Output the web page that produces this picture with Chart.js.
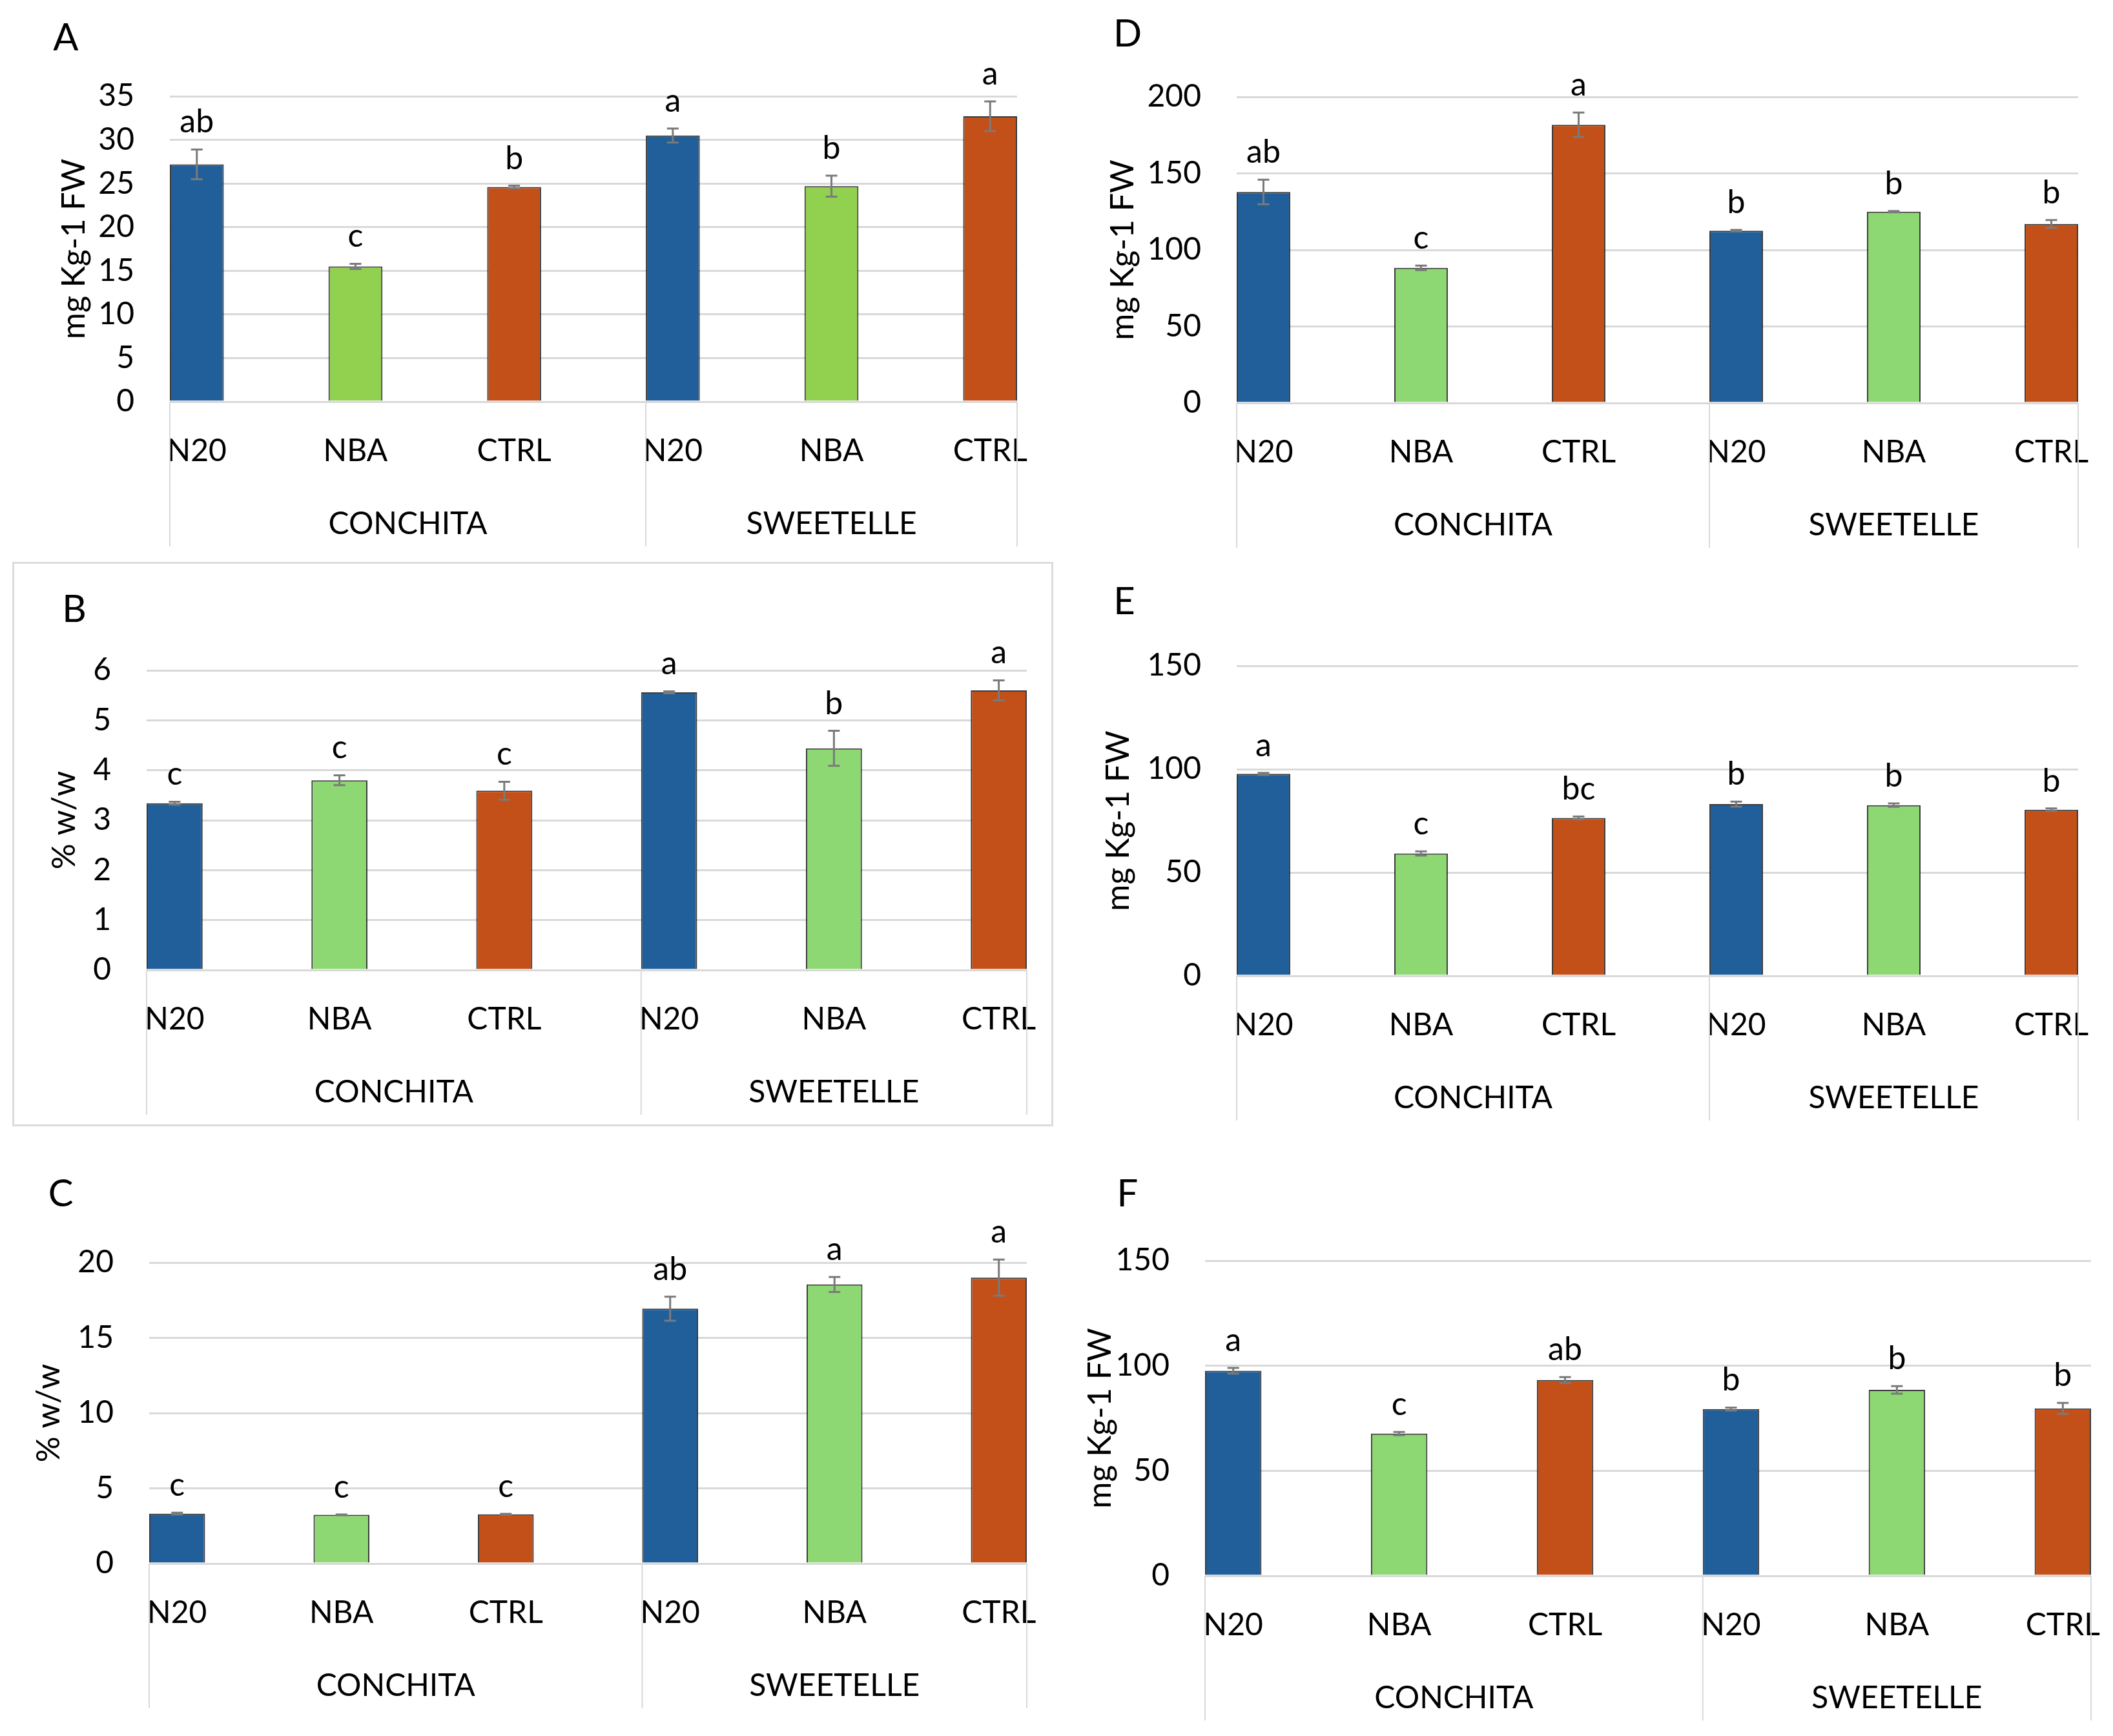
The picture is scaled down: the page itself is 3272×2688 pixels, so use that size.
<!DOCTYPE html>
<html><head><meta charset="utf-8">
<script src="https://cdn.jsdelivr.net/npm/chart.js@4.4.1/dist/chart.umd.min.js"></script>
<style>
html,body{margin:0;padding:0;background:#fff;}
body{width:3272px;height:2688px;position:relative;overflow:hidden;font-family:Lato,"Open Sans",sans-serif;}
canvas{position:absolute;}
.plbl{position:absolute;font-size:58px;line-height:1;transform:translate(-50%,-50%);color:#000;}
.box{position:absolute;border:3px solid #dcdcdc;box-sizing:border-box;}
</style></head><body>
<div class="box" style="left:19px;top:870px;width:1612px;height:874px"></div>
<script>
// ---------- data ----------
const categories = ['N20','NBA','CTRL','N20','NBA','CTRL'];
const groups = ['CONCHITA','SWEETELLE'];

const valuesA = [27.2, 15.5, 24.6, 30.5, 24.7, 32.7];
const errorsA = [1.7, 0.3, 0.15, 0.8, 1.2, 1.7];
const lettersA = ['ab','c','b','a','b','a'];
const yTicksA = [0,5,10,15,20,25,30,35];

const valuesD = [137.9, 88.3, 181.8, 112.6, 125.0, 117.0];
const errorsD = [8, 1.5, 8, 0.5, 0.4, 2.5];
const lettersD = ['ab','c','a','b','b','b'];
const yTicksD = [0,50,100,150,200];

const valuesB = [3.34, 3.80, 3.59, 5.56, 4.44, 5.60];
const errorsB = [0.03, 0.10, 0.18, 0.02, 0.35, 0.20];
const lettersB = ['c','c','c','a','b','a'];
const yTicksB = [0,1,2,3,4,5,6];

const valuesE = [97.7, 59.2, 76.4, 83.1, 82.6, 80.4];
const errorsE = [0.5, 1.0, 0.7, 1.2, 0.8, 0.6];
const lettersE = ['a','c','bc','b','b','b'];
const yTicksE = [0,50,100,150];

const valuesC = [3.32, 3.24, 3.27, 16.94, 18.55, 19.0];
const errorsC = [0.06, 0.02, 0.03, 0.8, 0.5, 1.2];
const lettersC = ['c','c','c','ab','a','a'];
const yTicksC = [0,5,10,15,20];

const valuesF = [97.6, 67.7, 93.2, 79.4, 88.5, 79.7];
const errorsF = [1.4, 0.8, 1.4, 0.7, 1.8, 2.6];
const lettersF = ['a','c','ab','b','b','b'];
const yTicksF = [0,50,100,150];

// ---------- styles / layout ----------
const BLUE = '#215F9B', ORANGE = '#C45019', GREEN_A = '#92D050', GREEN = '#8DD873';
const FONT = 'Lato, "Open Sans", sans-serif';
Chart.defaults.font.family = FONT;
Chart.defaults.color = '#000';

const panels = [
  {name:'A', values:valuesA, errors:errorsA, letters:lettersA, yTicks:yTicksA, yTitle:'mg Kg-1 FW', green:GREEN_A,
   cx:0, cy:0, L:263, T:149, R:1575, B:622, titleX:115, lx:102, ly:56},
  {name:'D', values:valuesD, errors:errorsD, letters:lettersD, yTicks:yTicksD, yTitle:'mg Kg-1 FW', green:GREEN,
   cx:1640, cy:0, L:1915, T:150, R:3218, B:624, titleX:1739, lx:1746, ly:50},
  {name:'B', values:valuesB, errors:errorsB, letters:lettersB, yTicks:yTicksB, yTitle:'% w/w', green:GREEN,
   cx:0, cy:880, L:227, T:1038, R:1590, B:1502, titleX:100, lx:115, ly:941},
  {name:'E', values:valuesE, errors:errorsE, letters:lettersE, yTicks:yTicksE, yTitle:'mg Kg-1 FW', green:GREEN,
   cx:1640, cy:880, L:1915, T:1031, R:3218, B:1511, titleX:1732, lx:1741, ly:929},
  {name:'C', values:valuesC, errors:errorsC, letters:lettersC, yTicks:yTicksC, yTitle:'% w/w', green:GREEN,
   cx:0, cy:1760, L:231, T:1955, R:1590, B:2421, titleX:76, lx:94, ly:1846},
  {name:'F', values:valuesF, errors:errorsF, letters:lettersF, yTicks:yTicksF, yTitle:'mg Kg-1 FW', green:GREEN,
   cx:1640, cy:1760, L:1866, T:1952, R:3238, B:2440, titleX:1704, lx:1746, ly:1846}
];

function makePanel(p){
  const padRight = 95, axisH = 232;
  const w = p.R - p.cx + padRight;
  const h = p.B - p.cy + axisH;
  const canvas = document.createElement('canvas');
  canvas.width = w; canvas.height = h;
  canvas.style.left = p.cx + 'px'; canvas.style.top = p.cy + 'px';
  canvas.style.width = w + 'px'; canvas.style.height = h + 'px';
  document.body.appendChild(canvas);

  const lbl = document.createElement('div');
  lbl.className = 'plbl'; lbl.textContent = p.name;
  lbl.style.left = p.lx + 'px'; lbl.style.top = p.ly + 'px';
  document.body.appendChild(lbl);

  const colors = [BLUE, p.green, ORANGE, BLUE, p.green, ORANGE];
  const yT = p.yTicks;

  const extras = {
    id: 'extras' + p.name,
    afterDatasetsDraw(chart){
      const ctx = chart.ctx, ys = chart.scales.y, area = chart.chartArea;
      const bars = chart.getDatasetMeta(0).data;
      ctx.save();
      // error bars
      ctx.strokeStyle = '#7a7a7a'; ctx.lineWidth = 3;
      bars.forEach((b, i) => {
        const v = p.values[i], e = p.errors[i];
        const yt = ys.getPixelForValue(v + e), yb = ys.getPixelForValue(v - e);
        ctx.beginPath();
        ctx.moveTo(b.x, yt); ctx.lineTo(b.x, yb);
        ctx.moveTo(b.x - 9, yt); ctx.lineTo(b.x + 9, yt);
        ctx.moveTo(b.x - 9, yb); ctx.lineTo(b.x + 9, yb);
        ctx.stroke();
      });
      // significance letters
      ctx.fillStyle = '#000'; ctx.font = '50px ' + FONT;
      ctx.textAlign = 'center'; ctx.textBaseline = 'alphabetic';
      bars.forEach((b, i) => {
        const yt = ys.getPixelForValue(p.values[i] + p.errors[i]);
        ctx.fillText(p.letters[i], b.x, yt - 26);
      });
      // group separators
      const left = area.left, right = area.right;
      const mid = bars[3].x - bars[3].width / 2;
      ctx.strokeStyle = '#d9d9d9'; ctx.lineWidth = 2;
      [left, mid, right].forEach(xp => {
        ctx.beginPath(); ctx.moveTo(xp, area.bottom); ctx.lineTo(xp, area.bottom + 224); ctx.stroke();
      });
      // group labels
      ctx.font = '48px ' + FONT; ctx.textBaseline = 'middle';
      ctx.fillText(groups[0], (left + mid) / 2, area.bottom + 190);
      ctx.fillText(groups[1], (mid + right) / 2, area.bottom + 190);
      ctx.restore();
    }
  };

  new Chart(canvas, {
    type: 'bar',
    data: {
      datasets: [{
        data: categories.map((c, i) => ({x: i, y: p.values[i]})),
        backgroundColor: colors,
        borderColor: 'rgba(25,25,25,0.85)',
        borderWidth: 2,
        barPercentage: 0.34,
        categoryPercentage: 1
      }]
    },
    options: {
      responsive: false, animation: false, devicePixelRatio: 1,
      layout: {padding: {left: 0, top: p.T - p.cy, right: padRight, bottom: 0}},
      plugins: {legend: {display: false}, tooltip: {enabled: false}},
      scales: {
        x: {
          type: 'linear', min: -0.17, max: 5.17, offset: false,
          grid: {display: false, drawTicks: false}, border: {display: false},
          afterBuildTicks: s => { s.ticks = categories.map((c, i) => ({value: i})); },
          afterFit: s => { s.height = axisH; },
          ticks: {padding: 48, maxRotation: 0, minRotation: 0, autoSkip: false, color: '#000',
                  font: {size: 48}, callback: (v, i) => categories[i]}
        },
        y: {
          min: yT[0], max: yT[yT.length - 1],
          grid: {color: '#d9d9d9', lineWidth: 3, drawTicks: false}, border: {display: false},
          afterBuildTicks: s => { s.ticks = yT.map(v => ({value: v})); },
          afterFit: s => { s.width = p.L - p.cx; },
          ticks: {padding: 55, color: '#000', font: {size: 48}},
          title: {display: true, text: p.yTitle, color: '#000', font: {size: 50},
                  padding: {top: p.titleX - p.cx - 30, bottom: 0}}
        }
      }
    },
    plugins: [extras]
  });
}

panels.forEach(makePanel);
</script>
</body></html>
